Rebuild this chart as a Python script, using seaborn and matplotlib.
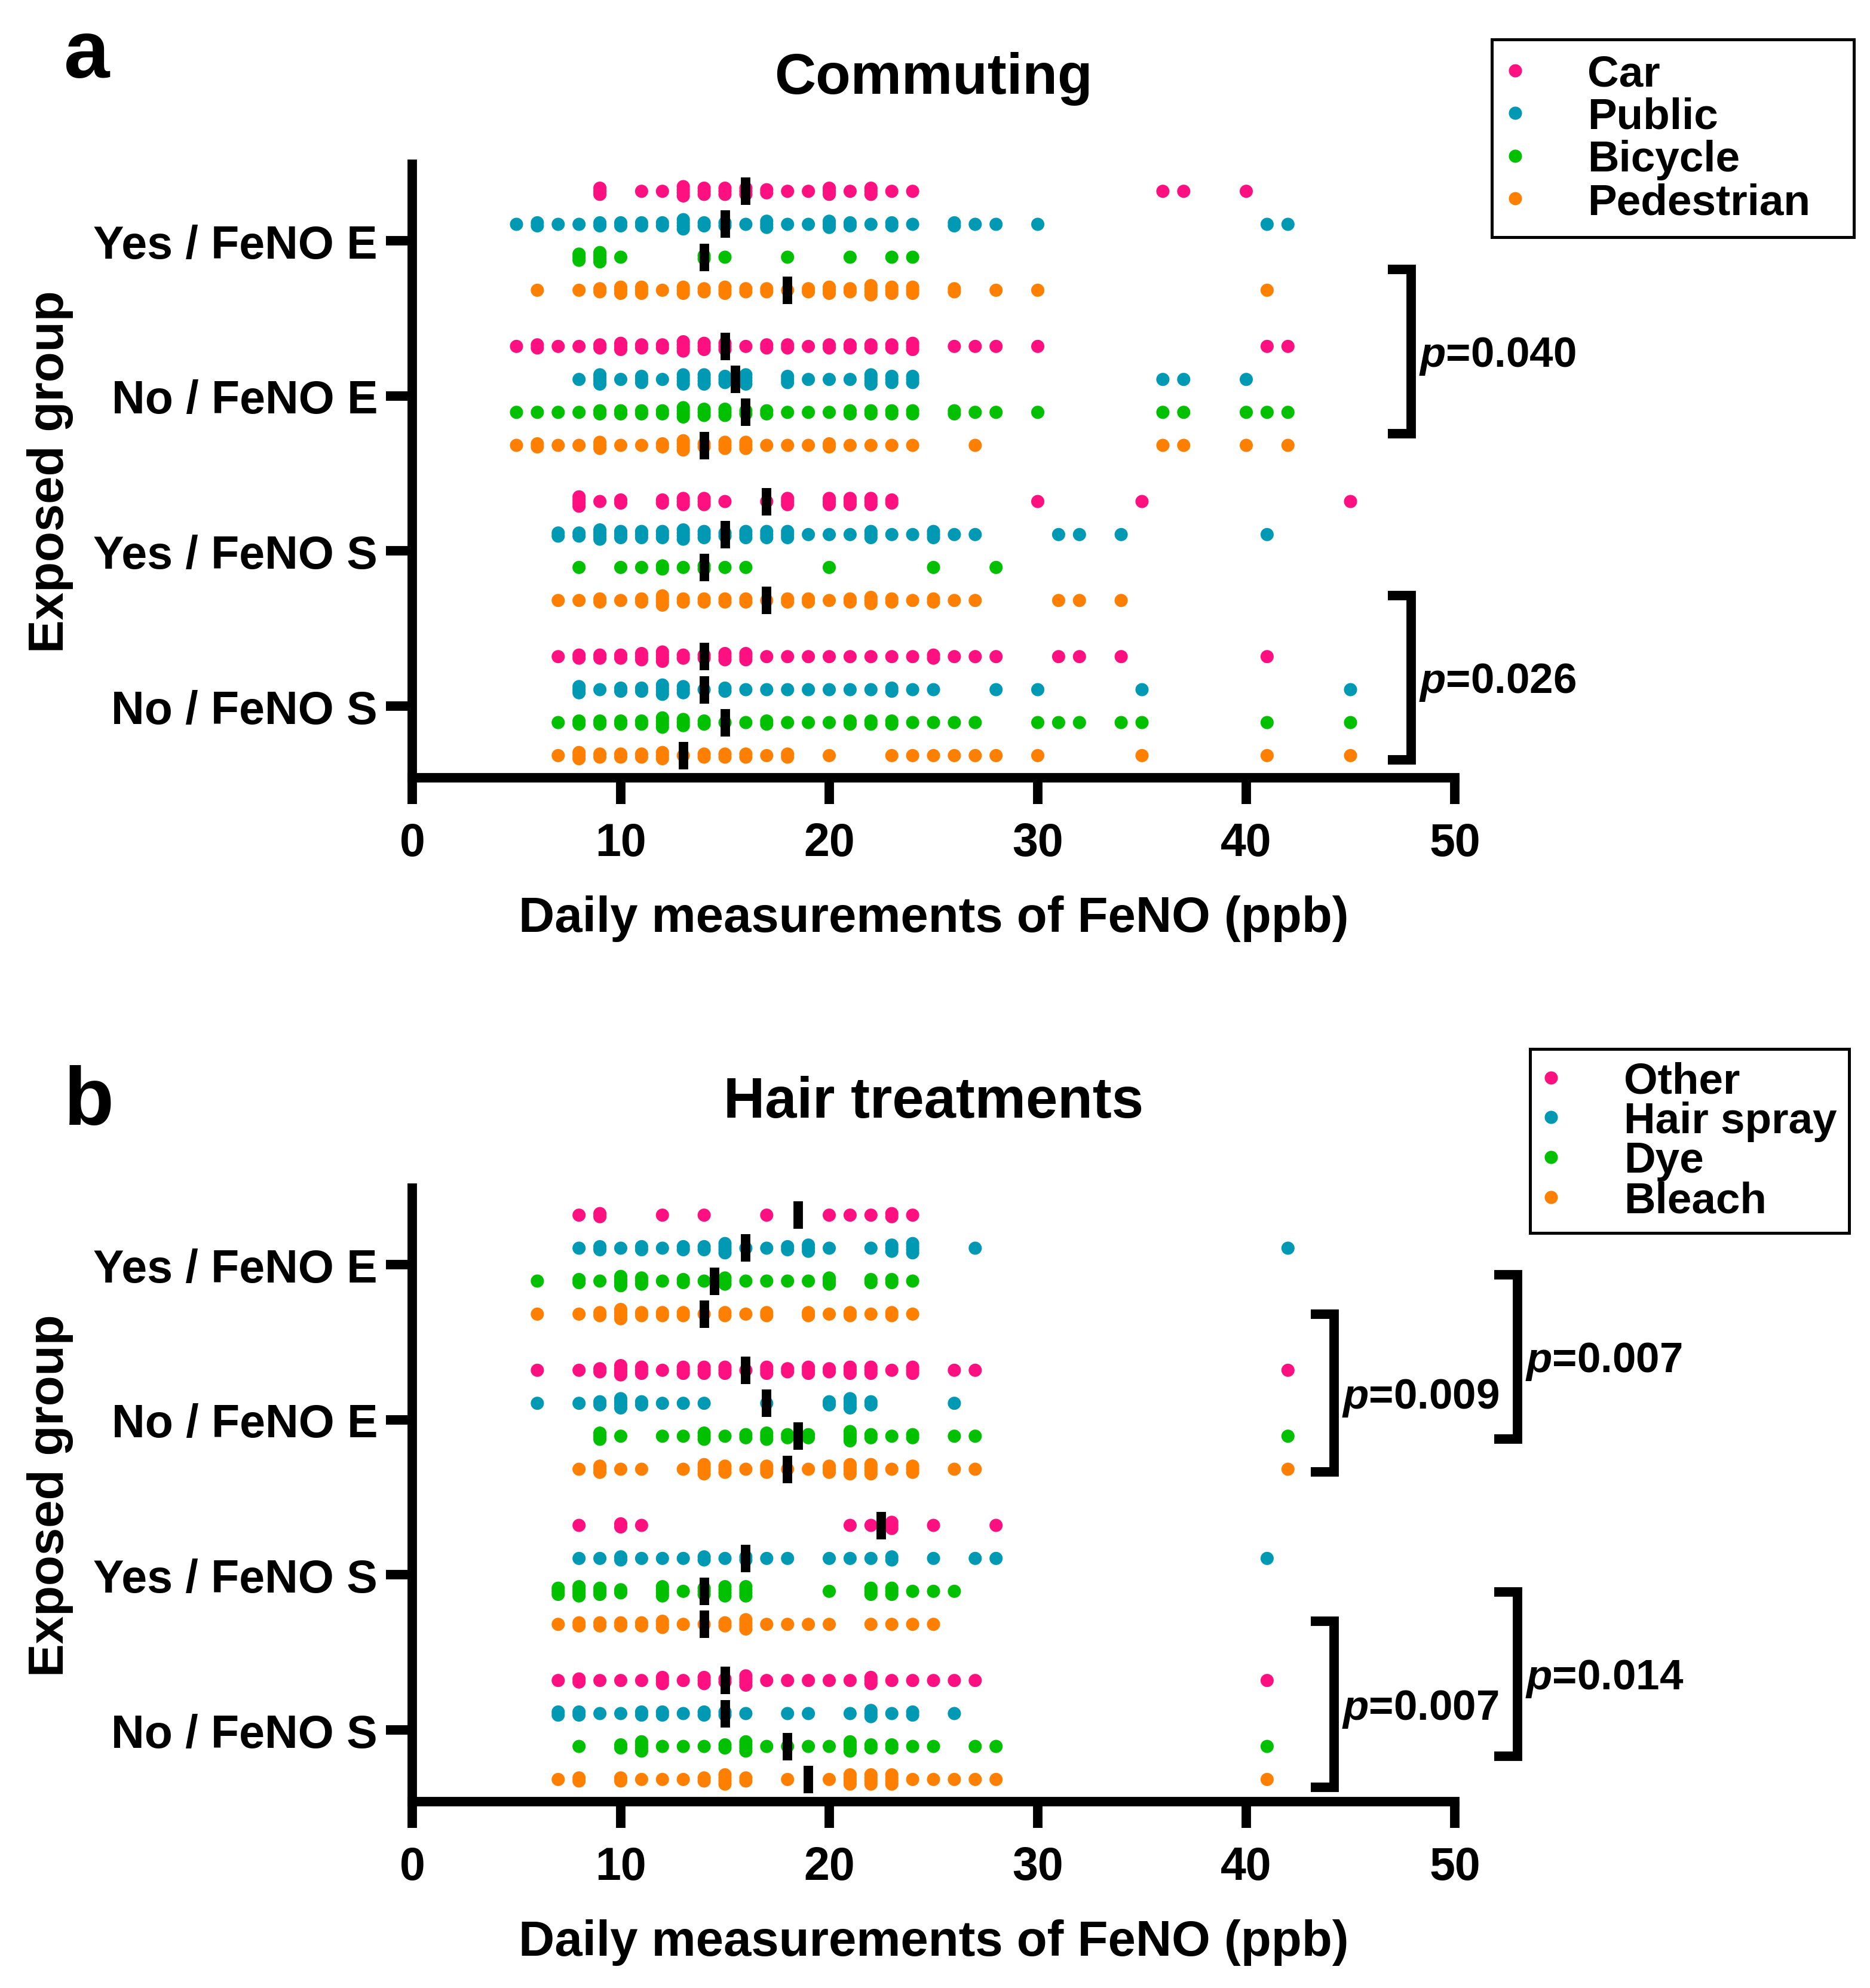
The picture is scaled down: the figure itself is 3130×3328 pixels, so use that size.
import numpy as np
import pandas as pd
import matplotlib
matplotlib.use("Agg")
import matplotlib.pyplot as plt
import seaborn as sns

# ========== DATA ==========
groups = ["Yes / FeNO E", "No / FeNO E", "Yes / FeNO S", "No / FeNO S"]
commute_modes = ["Car", "Public", "Bicycle", "Pedestrian"]
hair_kinds = ["Other", "Hair spray", "Dye", "Bleach"]

# --- a: commuting, daily FeNO (ppb) ---
car_yes_e = [9, 9, 9, 11, 12, 13, 13, 13, 13, 14, 14, 14, 15, 15, 15, 16, 16, 16, 17, 17, 18, 19,
             20, 20, 20, 21, 22, 22, 22, 23, 24, 36, 37, 40]
public_yes_e = [5, 6, 6, 7, 8, 9, 9, 10, 10, 11, 11, 12, 12, 13, 13, 13, 13, 14, 14, 15, 15, 16, 17,
                17, 17, 18, 19, 20, 20, 20, 21, 21, 22, 23, 23, 24, 26, 26, 27, 28, 30, 41, 42]
bicycle_yes_e = [8, 8, 8, 9, 9, 9, 9, 10, 14, 14, 15, 18, 21, 23, 24]
ped_yes_e = [6, 8, 9, 9, 10, 10, 10, 11, 11, 11, 12, 13, 13, 13, 14, 14, 15, 15, 15, 16, 16, 17, 17,
             18, 19, 19, 20, 20, 20, 21, 21, 22, 22, 22, 22, 23, 23, 23, 24, 24, 24, 26, 26, 28, 30, 41]

car_no_e = [5, 6, 6, 7, 8, 9, 9, 10, 10, 10, 11, 11, 12, 12, 13, 13, 13, 13, 14, 14, 14, 15, 15, 15,
            16, 17, 17, 18, 18, 19, 20, 20, 21, 21, 22, 22, 23, 23, 24, 24, 24, 26, 27, 28, 30, 41, 42]
public_no_e = [8, 9, 9, 9, 9, 10, 11, 11, 11, 12, 13, 13, 13, 13, 14, 14, 14, 14, 15, 15, 15, 16, 16,
               16, 16, 18, 18, 18, 19, 20, 21, 22, 22, 22, 22, 23, 23, 23, 24, 24, 24, 36, 37, 40]
bicycle_no_e = [5, 6, 7, 8, 9, 9, 10, 10, 11, 11, 12, 12, 13, 13, 13, 13, 14, 14, 14, 15, 15, 15, 16,
                16, 17, 17, 18, 19, 20, 21, 21, 22, 22, 23, 23, 24, 24, 26, 26, 27, 28, 30, 36, 37,
                40, 41, 42]
ped_no_e = [5, 6, 6, 7, 8, 9, 9, 9, 10, 11, 12, 12, 13, 13, 13, 13, 14, 14, 15, 15, 15, 16, 16, 16,
            17, 18, 19, 20, 20, 21, 22, 23, 24, 27, 36, 37, 40, 42]

car_yes_s = [8, 8, 8, 8, 9, 10, 10, 12, 12, 13, 13, 13, 14, 14, 14, 15, 17, 18, 18, 18, 20, 20, 20,
             21, 21, 21, 22, 22, 22, 23, 23, 30, 35, 45]
public_yes_s = [7, 7, 8, 8, 9, 9, 9, 9, 10, 10, 10, 11, 11, 11, 12, 12, 12, 13, 13, 13, 13, 14, 14, 14,
                15, 15, 16, 16, 16, 17, 17, 17, 18, 18, 18, 19, 20, 21, 22, 22, 22, 23, 24, 25, 25,
                25, 26, 27, 31, 32, 34, 41]
bicycle_yes_s = [8, 10, 11, 12, 12, 13, 14, 14, 15, 16, 20, 25, 28]
ped_yes_s = [7, 8, 9, 9, 10, 11, 11, 12, 12, 12, 12, 13, 13, 14, 14, 15, 15, 16, 16, 17, 18, 18, 19,
             19, 20, 21, 21, 22, 22, 22, 23, 23, 24, 25, 25, 26, 27, 31, 32, 34]

car_no_s = [7, 8, 8, 9, 9, 10, 10, 11, 11, 11, 12, 12, 12, 12, 13, 13, 14, 14, 15, 15, 15, 16, 16, 16,
            17, 18, 19, 20, 21, 22, 23, 24, 25, 25, 26, 27, 28, 31, 32, 34, 41]
public_no_s = [8, 8, 8, 9, 10, 10, 11, 11, 12, 12, 12, 12, 13, 13, 13, 14, 15, 15, 16, 17, 18, 19, 20,
               21, 22, 23, 23, 24, 25, 28, 30, 35, 45]
bicycle_no_s = [7, 8, 8, 9, 9, 10, 10, 11, 11, 12, 12, 12, 12, 13, 13, 13, 14, 14, 15, 16, 17, 17, 18,
                19, 20, 21, 21, 22, 22, 23, 23, 24, 25, 26, 27, 30, 31, 32, 34, 35, 41, 45]
ped_no_s = [7, 8, 8, 8, 9, 9, 10, 10, 11, 11, 12, 12, 12, 13, 14, 14, 15, 15, 16, 16, 17, 18, 18, 20,
            23, 24, 25, 26, 27, 28, 30, 35, 41, 45]

# medians (black bars), in the order of `groups`
med_car = [16, 15, 17, 14]
med_public = [15, 15.5, 15, 14]
med_bicycle = [14, 16, 14, 15]
med_ped = [18, 14, 17, 13]

# --- b: hair treatments ---
other_yes_e = [8, 9, 9, 12, 14, 17, 20, 21, 22, 23, 23, 24]
spray_yes_e = [8, 9, 9, 10, 11, 11, 12, 13, 13, 14, 14, 15, 15, 15, 15, 16, 17, 18, 18, 19, 19, 19,
               20, 22, 23, 23, 23, 24, 24, 24, 24, 27, 42]
dye_yes_e = [6, 8, 8, 9, 10, 10, 10, 10, 11, 11, 11, 12, 13, 13, 14, 15, 15, 15, 16, 17, 18, 19, 20,
             20, 20, 22, 22, 23, 23, 24]
bleach_yes_e = [6, 8, 9, 9, 10, 10, 10, 10, 11, 11, 12, 12, 13, 13, 14, 15, 15, 16, 17, 17, 19, 19,
                20, 21, 21, 22, 23, 23, 24]

other_no_e = [6, 8, 9, 9, 10, 10, 10, 10, 11, 11, 11, 12, 13, 13, 13, 14, 14, 14, 15, 15, 15, 16, 17,
              17, 17, 18, 18, 19, 19, 19, 20, 20, 21, 21, 21, 22, 22, 22, 23, 24, 24, 24, 26, 27, 42]
spray_no_e = [6, 8, 9, 9, 10, 10, 10, 10, 11, 11, 12, 13, 14, 17, 20, 20, 21, 21, 21, 21, 22, 22, 26]
dye_no_e = [9, 9, 9, 10, 12, 13, 14, 14, 14, 15, 16, 16, 17, 17, 17, 18, 18, 19, 19, 21, 21, 21, 21,
            22, 22, 23, 24, 24, 26, 27, 42]
bleach_no_e = [8, 9, 9, 9, 10, 11, 13, 14, 14, 14, 14, 15, 15, 15, 16, 17, 17, 17, 18, 19, 20, 20, 20,
               21, 21, 21, 21, 22, 22, 22, 22, 23, 24, 24, 24, 26, 27, 42]

other_yes_s = [8, 10, 10, 11, 21, 22, 23, 23, 23, 25, 28]
spray_yes_s = [8, 9, 10, 10, 11, 12, 13, 14, 14, 15, 16, 16, 17, 18, 20, 21, 22, 23, 23, 25, 27, 28, 41]
dye_yes_s = [7, 7, 7, 8, 8, 8, 8, 9, 9, 9, 10, 10, 12, 12, 12, 12, 13, 14, 14, 14, 15, 15, 15, 15, 16,
             16, 16, 16, 20, 22, 22, 22, 23, 23, 23, 24, 25, 26]
bleach_yes_s = [7, 8, 8, 9, 9, 10, 10, 11, 11, 12, 12, 12, 13, 14, 15, 15, 16, 16, 16, 16, 17, 18, 19,
                20, 22, 23, 24, 25]

other_no_s = [7, 8, 8, 9, 10, 11, 12, 12, 12, 13, 14, 14, 14, 15, 15, 16, 16, 16, 16, 17, 18, 19, 20,
              21, 22, 22, 22, 23, 24, 25, 26, 27, 41]
spray_no_s = [7, 7, 8, 8, 9, 10, 11, 11, 12, 12, 13, 14, 14, 15, 15, 16, 18, 19, 21, 22, 22, 22, 23,
              24, 24, 26]
dye_no_s = [8, 10, 10, 11, 11, 11, 11, 12, 13, 14, 15, 15, 16, 16, 16, 16, 17, 18, 19, 20, 21, 21, 21,
            21, 22, 22, 23, 23, 24, 25, 27, 28, 41]
bleach_no_s = [7, 8, 8, 10, 10, 11, 12, 13, 14, 14, 15, 15, 15, 15, 16, 16, 18, 20, 21, 21, 21, 21, 22,
               22, 22, 22, 23, 23, 23, 23, 24, 25, 26, 27, 28, 41]

med_other = [18.5, 16, 22.5, 15]
med_spray = [16, 17, 16, 15]
med_dye = [14.5, 18.5, 14, 18]
med_bleach = [14, 18, 14, 19]

commute_pvals = ["0.040", "0.026"]
hair_pvals = ["0.009", "0.007", "0.007", "0.014"]

colors = ["#FF1080", "#0099B4", "#00C000", "#FF8000"]

# ========== STYLE ==========
sns.set_style("ticks")
plt.rcParams["font.family"] = ["Liberation Sans", "DejaVu Sans"]
plt.rcParams["font.weight"] = "bold"
plt.rcParams["axes.labelweight"] = "bold"
plt.rcParams["axes.titleweight"] = "bold"
for key in ["text.color", "axes.edgecolor", "axes.labelcolor", "xtick.color", "ytick.color"]:
    plt.rcParams[key] = "black"
plt.rcParams["mathtext.fontset"] = "custom"
plt.rcParams["mathtext.it"] = "Liberation Sans:italic:bold"
plt.rcParams["mathtext.rm"] = "Liberation Sans:bold"

DODGE = [-0.319, -0.106, 0.106, 0.319]   # row offset of each hue level inside a group
STACK = 0.02                              # vertical step between equal values (prism-like stacking)
LW = 3.8


def build_frames(rows, meds, hues):
    """Long table of points (with stacking offsets) + table of medians."""
    parts, med_parts = [], []
    for gi, grp in enumerate(groups):
        for hi, hue in enumerate(hues):
            s = pd.Series(rows[gi][hi], dtype=float)
            rank = s.groupby(s).cumcount()
            size = s.groupby(s).transform("size")
            ypos = gi + DODGE[hi] + (rank - (size - 1) / 2) * STACK
            parts.append(pd.DataFrame({"group": grp, "kind": hue, "value": s, "ypos": ypos}))
            med_parts.append({"group": grp, "kind": hue, "median": meds[hi][gi],
                              "ypos": gi + DODGE[hi]})
    return pd.concat(parts, ignore_index=True), pd.DataFrame(med_parts)


def draw_panel(ax, df, med, hues, title, brackets, leg_box, leg_space, leg_pad):
    palette = dict(zip(hues, colors))
    sns.scatterplot(data=df, x="value", y="ypos", hue="kind", hue_order=hues, palette=palette,
                    s=28, linewidth=0, ax=ax, zorder=3)
    sns.scatterplot(data=med, x="median", y="ypos", marker="|", s=117, linewidth=LW,
                    color="black", ax=ax, legend=False, zorder=4)

    ax.set_xlim(0, 50)
    ax.set_ylim(3.462, -0.493)
    ax.set_xticks(range(0, 51, 10))
    ax.set_yticks(range(len(groups)))
    ax.set_yticklabels(groups)
    ax.set_xlabel("Daily measurements of FeNO (ppb)", fontsize=20, labelpad=12)
    ax.set_ylabel("Exposed group", fontsize=20, labelpad=8)
    ax.set_title(title, fontsize=23, pad=28.5)

    sns.despine(ax=ax)
    for side in ["left", "bottom"]:
        ax.spines[side].set_linewidth(LW)
        ax.spines[side].set_capstyle("projecting")
    ax.tick_params(axis="both", width=LW, length=10.5, labelsize=18.5, color="black")
    ax.tick_params(axis="x", pad=7)
    ax.tick_params(axis="y", pad=3.4)

    # significance brackets
    for xv, y0, y1, label in brackets:
        ax.plot([xv - 1.1, xv, xv, xv - 1.1], [y0, y0, y1, y1], color="black", lw=LW,
                solid_joinstyle="miter", solid_capstyle="butt", clip_on=False)
        ax.text(xv + 0.38, (y0 + y1) / 2 + 0.095, r"$p$=" + label, fontsize=17,
                ha="left", va="baseline", clip_on=False)

    sns.move_legend(ax, "upper left", bbox_to_anchor=leg_box, bbox_transform=ax.figure.transFigure,
                    title=None, mode="expand", frameon=True, fancybox=False, edgecolor="black",
                    framealpha=1, borderaxespad=0, borderpad=leg_pad, handlelength=0.4,
                    handletextpad=1.47, labelspacing=leg_space,
                    prop={"size": 17.5, "weight": "bold"})
    ax.get_legend().get_frame().set_linewidth(1.2)


# ========== FIGURE ==========
W, H = 3130, 3329
fig = plt.figure(figsize=(W / 300, H / 300), dpi=300)
ax_a = fig.add_axes([690 / W, 1 - 1303 / H, 1745 / W, 1027 / H])
ax_b = fig.add_axes([690 / W, 1 - 3017 / H, 1745 / W, 1027 / H])

commute_rows = [
    [car_yes_e, public_yes_e, bicycle_yes_e, ped_yes_e],
    [car_no_e, public_no_e, bicycle_no_e, ped_no_e],
    [car_yes_s, public_yes_s, bicycle_yes_s, ped_yes_s],
    [car_no_s, public_no_s, bicycle_no_s, ped_no_s],
]
hair_rows = [
    [other_yes_e, spray_yes_e, dye_yes_e, bleach_yes_e],
    [other_no_e, spray_no_e, dye_no_e, bleach_no_e],
    [other_yes_s, spray_yes_s, dye_yes_s, bleach_yes_s],
    [other_no_s, spray_no_s, dye_no_s, bleach_no_s],
]

df_a, med_a = build_frames(commute_rows, [med_car, med_public, med_bicycle, med_ped], commute_modes)
df_b, med_b = build_frames(hair_rows, [med_other, med_spray, med_dye, med_bleach], hair_kinds)

draw_panel(ax_a, df_a, med_a, commute_modes, "Commuting",
           [(47.9, 0.185, 1.244, commute_pvals[0]), (47.9, 2.287, 3.346, commute_pvals[1])],
           (2497 / W, 1 - 403 / H, 606 / W, 336 / H), 0.05, 0.33)
draw_panel(ax_b, df_b, med_b, hair_kinds, "Hair treatments",
           [(44.2, 0.32, 1.337, hair_pvals[0]), (53.0, 0.066, 1.125, hair_pvals[1]),
            (44.2, 2.30, 3.37, hair_pvals[2]), (53.0, 2.11, 3.17, hair_pvals[3])],
           (2561 / W, 1 - 2065 / H, 534 / W, 308 / H), -0.02, 0.28)

fig.text(107 / W, 1 - 130 / H, "a", fontsize=33, va="baseline", ha="left")
fig.text(107 / W, 1 - 1883 / H, "b", fontsize=33, va="baseline", ha="left")

fig.savefig("out.png", dpi=300, facecolor="white")
